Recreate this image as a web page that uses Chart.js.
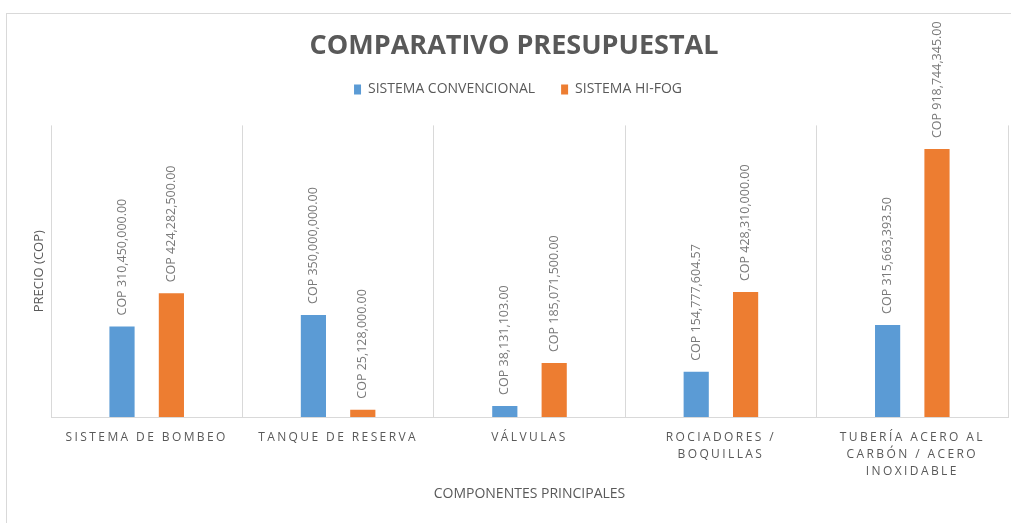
<!DOCTYPE html>
<html>
<head>
<meta charset="utf-8">
<script src="https://cdn.jsdelivr.net/npm/chart.js@4.4.0/dist/chart.umd.min.js"></script>
<style>
    html, body { margin: 0; padding: 0; background: #fff; overflow: hidden; }
    .frame {
        position: absolute; left: 6px; top: 13px;
        width: 1020px; height: 530px;
        border: 1px solid #d9d9d9;
    }
    .wrap { position: absolute; left: 0; top: 0; width: 1011px; height: 523px; }
</style>
</head>
<body>
<div class="frame"></div>
<div class="wrap"><canvas id="budgetChart"></canvas></div>
<script>
// Comparativo presupuestal - Chart.js
const categories = [
    'SISTEMA DE BOMBEO',
    'TANQUE DE RESERVA',
    'VÁLVULAS',
    ['ROCIADORES /', 'BOQUILLAS'],
    ['TUBERÍA ACERO AL', 'CARBÓN / ACERO', 'INOXIDABLE']
];
const convencional = [310450000.00, 350000000.00, 38131103.00, 154777604.57, 315663393.50];
const hiFog = [424282500.00, 25128000.00, 185071500.00, 428310000.00, 918744345.00];
const yMin = 0;
const yMax = 1000000000;

const textGray = '#595959';

function formatCOP(v) {
    return 'COP ' + v.toLocaleString('en-US', { minimumFractionDigits: 2, maximumFractionDigits: 2 });
}

// wraps a box's draw() so it is painted shifted by dx, dy
function shiftDraw(box, dx, dy) {
    if (!box) return;
    const origDraw = box.draw;
    box.draw = function() {
        const ctx = this.ctx;
        ctx.save();
        ctx.translate(dx, dy);
        origDraw.apply(this, arguments);
        ctx.restore();
    };
}

// vertical value labels above each bar
const barLabels = {
    id: 'barLabels',
    beforeInit(chart) {
        // extra room below the legend
        const legend = chart.legend;
        if (legend) {
            const origFit = legend.fit;
            legend.fit = function() {
                origFit.call(this);
                this.height += 5;
            };
        }
        shiftDraw(chart.legend, 14, -14);
        shiftDraw(chart.titleBlock, 10, 0);
    },
    afterDatasetsDraw(chart) {
        const ctx = chart.ctx;
        ctx.save();
        ctx.font = "12.5px 'Open Sans', sans-serif";
        ctx.fillStyle = '#7a7a7a';
        ctx.textAlign = 'left';
        ctx.textBaseline = 'middle';
        chart.data.datasets.forEach(function(ds, i) {
            chart.getDatasetMeta(i).data.forEach(function(bar, j) {
                ctx.save();
                ctx.translate(bar.x, bar.y - 11);
                ctx.rotate(-Math.PI / 2);
                ctx.fillText(formatCOP(ds.data[j]), 0, 0);
                ctx.restore();
            });
        });
        ctx.restore();
        // spaced letters for the category labels (drawn after datasets, z: 1)
        ctx.letterSpacing = '2.4px';
    },
    afterDraw(chart) {
        chart.ctx.letterSpacing = '0px';
    }
};

new Chart(document.getElementById('budgetChart'), {
    type: 'bar',
    data: {
        labels: categories,
        datasets: [
            {
                label: 'SISTEMA CONVENCIONAL',
                data: convencional,
                backgroundColor: '#5B9BD5',
                categoryPercentage: 0.516,
                barPercentage: 0.51
            },
            {
                label: 'SISTEMA HI-FOG',
                data: hiFog,
                backgroundColor: '#ED7D31',
                categoryPercentage: 0.516,
                barPercentage: 0.51
            }
        ]
    },
    options: {
        responsive: true,
        maintainAspectRatio: false,
        animation: false,
        layout: { padding: { left: 0, right: 3, top: 0, bottom: 0 } },
        plugins: {
            title: {
                display: true,
                text: 'COMPARATIVO PRESUPUESTAL',
                color: textGray,
                font: { size: 27, weight: 'bold', family: "'Open Sans', sans-serif" },
                padding: { top: 30, bottom: 8 }
            },
            legend: {
                display: true,
                position: 'top',
                labels: {
                    boxWidth: 7,
                    boxHeight: 10,
                    padding: 26,
                    color: textGray,
                    font: { size: 14, family: "'Open Sans', sans-serif" }
                }
            },
            tooltip: { enabled: false }
        },
        scales: {
            x: {
                grid: { display: true, offset: true, color: '#d9d9d9', drawTicks: false },
                border: { display: true, color: '#d9d9d9' },
                ticks: {
                    z: 1,
                    color: textGray,
                    autoSkip: false,
                    maxRotation: 0,
                    padding: 12,
                    font: { size: 12, family: "'Open Sans', sans-serif", lineHeight: 1.42 }
                },
                title: {
                    display: true,
                    text: 'COMPONENTES PRINCIPALES',
                    color: textGray,
                    font: { size: 14, family: "'Open Sans', sans-serif", lineHeight: 1.3 },
                    padding: { top: 0, bottom: 20 }
                },
                afterFit: function(scale) { scale.height = 106; }
            },
            y: {
                min: yMin,
                max: yMax,
                grid: { display: false },
                border: { display: false },
                ticks: { display: false },
                title: {
                    display: true,
                    text: 'PRECIO (COP)',
                    color: textGray,
                    font: { size: 13, family: "'Open Sans', sans-serif", lineHeight: 1.3 },
                    padding: { top: 31, bottom: 0 }
                },
                afterFit: function(scale) { scale.width = 51; }
            }
        }
    },
    plugins: [barLabels]
});
</script>
</body>
</html>
